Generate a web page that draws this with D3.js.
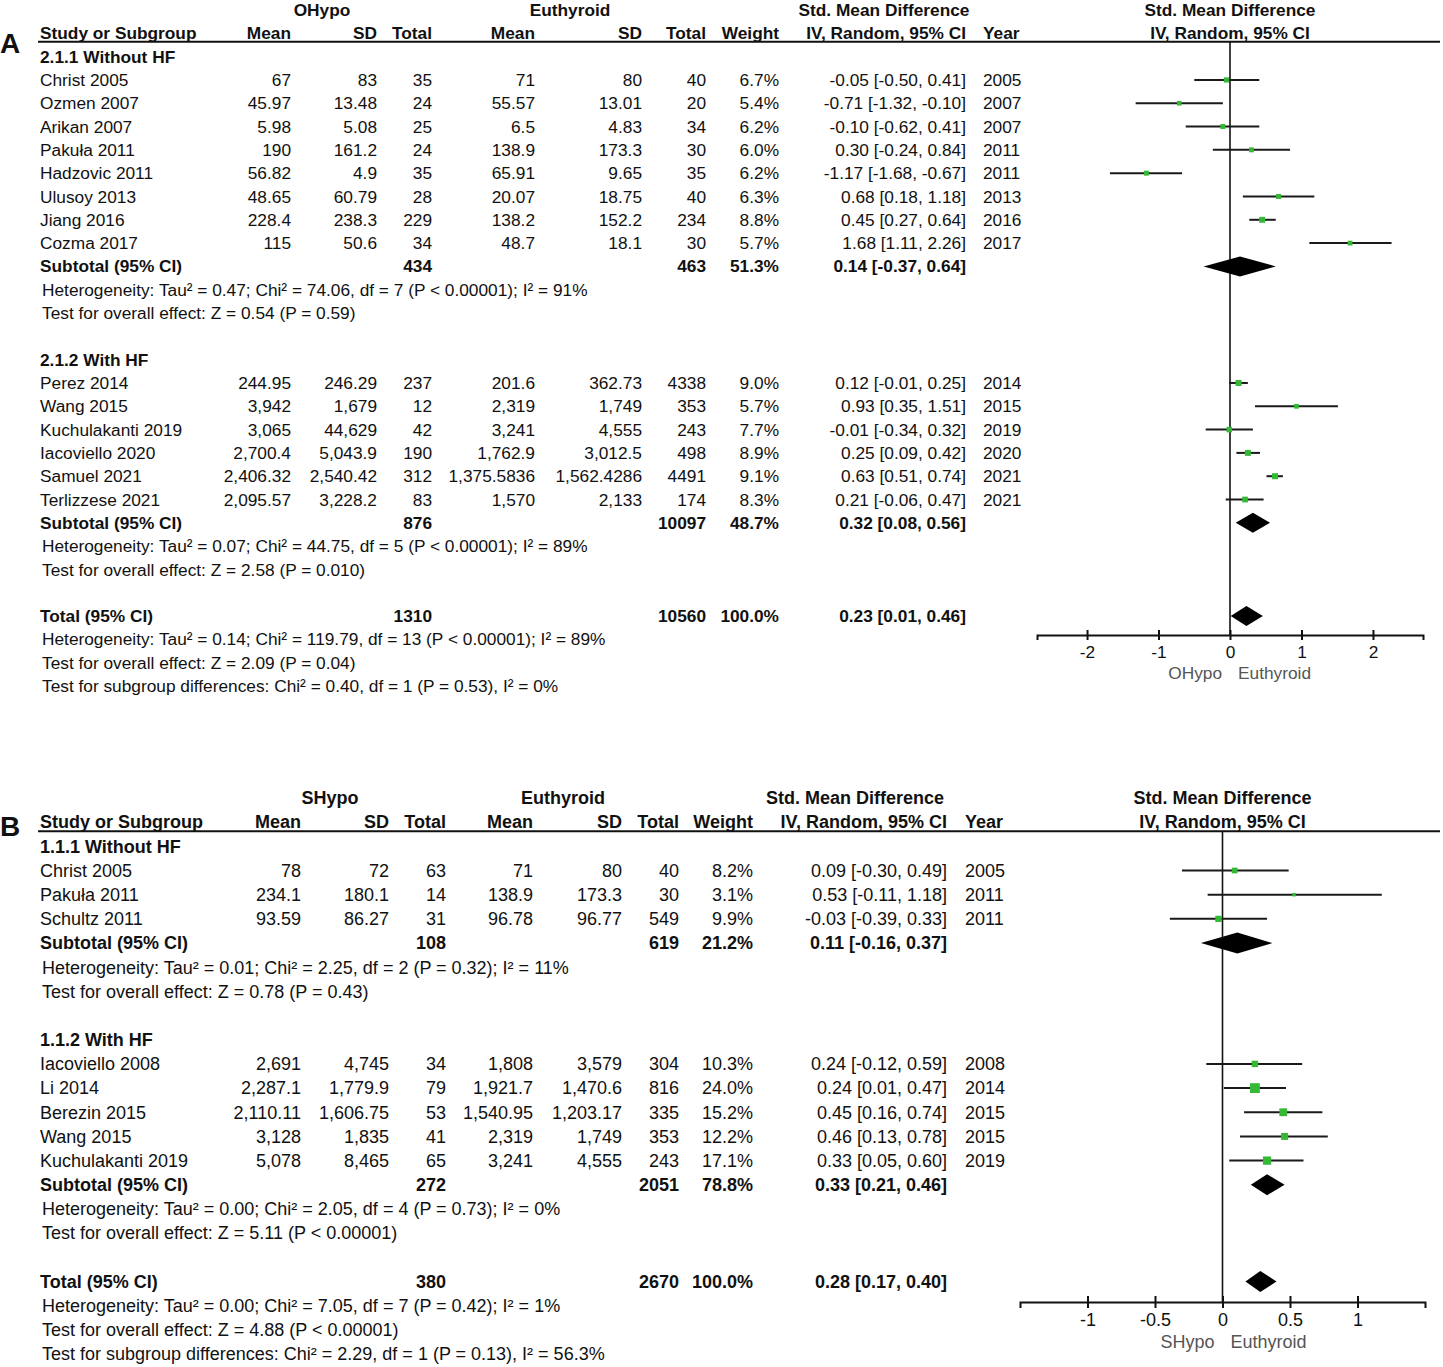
<!DOCTYPE html>
<html>
<head>
<meta charset="utf-8">
<script src="https://cdn.jsdelivr.net/npm/d3@7"></script>
<style>
  body { margin: 0; background: #fff; }
  svg text { font-family: "Liberation Sans", Arial, sans-serif; fill: #111; }
</style>
</head>
<body>
<svg id="chart" width="1443" height="1367"></svg>
<script>
// ---- Panel A: overt hypothyroidism vs euthyroid ----
const aStudy = ['Christ 2005', 'Ozmen 2007', 'Arikan 2007', 'Pakuła 2011', 'Hadzovic 2011', 'Ulusoy 2013', 'Jiang 2016', 'Cozma 2017',
  'Perez 2014', 'Wang 2015', 'Kuchulakanti 2019', 'Iacoviello 2020', 'Samuel 2021', 'Terlizzese 2021']
const aGroup = [0, 0, 0, 0, 0, 0, 0, 0, 1, 1, 1, 1, 1, 1]
const aMean1 = ['67', '45.97', '5.98', '190', '56.82', '48.65', '228.4', '115', '244.95', '3,942', '3,065', '2,700.4', '2,406.32', '2,095.57']
const aSD1 = ['83', '13.48', '5.08', '161.2', '4.9', '60.79', '238.3', '50.6', '246.29', '1,679', '44,629', '5,043.9', '2,540.42', '3,228.2']
const aN1 = [35, 24, 25, 24, 35, 28, 229, 34, 237, 12, 42, 190, 312, 83]
const aMean2 = ['71', '55.57', '6.5', '138.9', '65.91', '20.07', '138.2', '48.7', '201.6', '2,319', '3,241', '1,762.9', '1,375.5836', '1,570']
const aSD2 = ['80', '13.01', '4.83', '173.3', '9.65', '18.75', '152.2', '18.1', '362.73', '1,749', '4,555', '3,012.5', '1,562.4286', '2,133']
const aN2 = [40, 20, 34, 30, 35, 40, 234, 30, 4338, 353, 243, 498, 4491, 174]
const aWeight = [6.7, 5.4, 6.2, 6.0, 6.2, 6.3, 8.8, 5.7, 9.0, 5.7, 7.7, 8.9, 9.1, 8.3]
const aSMD = [-0.05, -0.71, -0.10, 0.30, -1.17, 0.68, 0.45, 1.68, 0.12, 0.93, -0.01, 0.25, 0.63, 0.21]
const aLow = [-0.50, -1.32, -0.62, -0.24, -1.68, 0.18, 0.27, 1.11, -0.01, 0.35, -0.34, 0.09, 0.51, -0.06]
const aHigh = [0.41, -0.10, 0.41, 0.84, -0.67, 1.18, 0.64, 2.26, 0.25, 1.51, 0.32, 0.42, 0.74, 0.47]
const aYear = [2005, 2007, 2007, 2011, 2011, 2013, 2016, 2017, 2014, 2015, 2019, 2020, 2021, 2021]
const aSubName = ['2.1.1 Without HF', '2.1.2 With HF']
const aSubN1 = [434, 876]
const aSubN2 = [463, 10097]
const aSubW = [51.3, 48.7]
const aSubSMD = [0.14, 0.32]
const aSubLow = [-0.37, 0.08]
const aSubHigh = [0.64, 0.56]
const aSubHet = ['Heterogeneity: Tau² = 0.47; Chi² = 74.06, df = 7 (P < 0.00001); I² = 91%',
  'Heterogeneity: Tau² = 0.07; Chi² = 44.75, df = 5 (P < 0.00001); I² = 89%']
const aSubTest = ['Test for overall effect: Z = 0.54 (P = 0.59)', 'Test for overall effect: Z = 2.58 (P = 0.010)']
const aTotal = [1310, 10560, 100.0, 0.23, 0.01, 0.46] // n1, n2, weight, smd, low, high
const aTotText = ['Heterogeneity: Tau² = 0.14; Chi² = 119.79, df = 13 (P < 0.00001); I² = 89%',
  'Test for overall effect: Z = 2.09 (P = 0.04)',
  'Test for subgroup differences: Chi² = 0.40, df = 1 (P = 0.53), I² = 0%']
const aTicks = [-2, -1, 0, 1, 2]

// ---- Panel B: subclinical hypothyroidism vs euthyroid ----
const bStudy = ['Christ 2005', 'Pakuła 2011', 'Schultz 2011',
  'Iacoviello 2008', 'Li 2014', 'Berezin 2015', 'Wang 2015', 'Kuchulakanti 2019']
const bGroup = [0, 0, 0, 1, 1, 1, 1, 1]
const bMean1 = ['78', '234.1', '93.59', '2,691', '2,287.1', '2,110.11', '3,128', '5,078']
const bSD1 = ['72', '180.1', '86.27', '4,745', '1,779.9', '1,606.75', '1,835', '8,465']
const bN1 = [63, 14, 31, 34, 79, 53, 41, 65]
const bMean2 = ['71', '138.9', '96.78', '1,808', '1,921.7', '1,540.95', '2,319', '3,241']
const bSD2 = ['80', '173.3', '96.77', '3,579', '1,470.6', '1,203.17', '1,749', '4,555']
const bN2 = [40, 30, 549, 304, 816, 335, 353, 243]
const bWeight = [8.2, 3.1, 9.9, 10.3, 24.0, 15.2, 12.2, 17.1]
const bSMD = [0.09, 0.53, -0.03, 0.24, 0.24, 0.45, 0.46, 0.33]
const bLow = [-0.30, -0.11, -0.39, -0.12, 0.01, 0.16, 0.13, 0.05]
const bHigh = [0.49, 1.18, 0.33, 0.59, 0.47, 0.74, 0.78, 0.60]
const bYear = [2005, 2011, 2011, 2008, 2014, 2015, 2015, 2019]
const bSubName = ['1.1.1 Without HF', '1.1.2 With HF']
const bSubN1 = [108, 272]
const bSubN2 = [619, 2051]
const bSubW = [21.2, 78.8]
const bSubSMD = [0.11, 0.33]
const bSubLow = [-0.16, 0.21]
const bSubHigh = [0.37, 0.46]
const bSubHet = ['Heterogeneity: Tau² = 0.01; Chi² = 2.25, df = 2 (P = 0.32); I² = 11%',
  'Heterogeneity: Tau² = 0.00; Chi² = 2.05, df = 4 (P = 0.73); I² = 0%']
const bSubTest = ['Test for overall effect: Z = 0.78 (P = 0.43)', 'Test for overall effect: Z = 5.11 (P < 0.00001)']
const bTotal = [380, 2670, 100.0, 0.28, 0.17, 0.40]
const bTotText = ['Heterogeneity: Tau² = 0.00; Chi² = 7.05, df = 7 (P = 0.42); I² = 1%',
  'Test for overall effect: Z = 4.88 (P < 0.00001)',
  'Test for subgroup differences: Chi² = 2.29, df = 1 (P = 0.13), I² = 56.3%']
const bTicks = [-1, -0.5, 0, 0.5, 1]

const GREEN = '#35b835'
const INK = '#111'
// plain hyphen for negatives, like the source table
const loc = d3.formatLocale({ decimal: '.', thousands: ',', grouping: [3], currency: ['', ''], minus: '-' })
const fmt2 = loc.format('.2f')
const fmtTick = loc.format('')
const fmtW = v => loc.format('.1f')(v) + '%'
const ciText = (m, l, h) => `${fmt2(m)} [${fmt2(l)}, ${fmt2(h)}]`

const svg = d3.select('#chart')
svg.append('rect').attr('width', 1443).attr('height', 1367).attr('fill', '#fff')

function drawPanel(cfg, d) {
  const g = svg.append('g')
  const fs = cfg.fontSize

  // build the row list
  const rows = [{ type: 'groupHead' }, { type: 'colHead' }]
  d.subName.forEach((name, gi) => {
    rows.push({ type: 'title', text: name })
    d.study.forEach((s, i) => { if (d.group[i] === gi) rows.push({ type: 'study', i }) })
    rows.push({ type: 'subtotal', gi })
    rows.push({ type: 'note', text: d.subHet[gi] })
    rows.push({ type: 'note', text: d.subTest[gi] })
    rows.push({ type: 'blank' })
  })
  rows.push({ type: 'total' })
  d.totText.forEach(t => rows.push({ type: 'note', text: t }))

  const yRow = d3.scaleLinear().domain([0, rows.length - 1]).range([cfg.y0, cfg.y1])
  const x = d3.scaleLinear().domain(cfg.domain).range(cfg.xRange)
  const side = d3.scaleSqrt().domain([0, 100]).range([0, 20])
  const c = cfg.cols
  const plotMid = (x(cfg.domain[0]) + x(cfg.domain[1])) / 2

  function txt(xp, yp, s, anchor, bold) {
    return g.append('text')
      .attr('x', xp).attr('y', yp).attr('dy', '0.35em')
      .attr('text-anchor', anchor || 'start')
      .attr('font-size', fs)
      .attr('font-weight', bold ? 'bold' : 'normal')
      .text(s)
  }

  // panel letter
  g.append('text').attr('x', 0).attr('y', cfg.letterY).attr('dy', '0.35em')
    .attr('font-size', 28).attr('font-weight', 'bold').text(cfg.letter)

  // header rows
  const y0 = yRow(0), y1 = yRow(1)
  txt(cfg.headCenters[0], y0, cfg.expName, 'middle', true)
  txt(cfg.headCenters[1], y0, 'Euthyroid', 'middle', true)
  txt(cfg.headCenters[2], y0, 'Std. Mean Difference', 'middle', true)
  txt(plotMid, y0, 'Std. Mean Difference', 'middle', true)
  txt(c.study, y1, 'Study or Subgroup', 'start', true)
  txt(c.mean1, y1, 'Mean', 'end', true)
  txt(c.sd1, y1, 'SD', 'end', true)
  txt(c.n1, y1, 'Total', 'end', true)
  txt(c.mean2, y1, 'Mean', 'end', true)
  txt(c.sd2, y1, 'SD', 'end', true)
  txt(c.n2, y1, 'Total', 'end', true)
  txt(c.weight, y1, 'Weight', 'end', true)
  txt(c.ci, y1, 'IV, Random, 95% CI', 'end', true)
  txt(c.year, y1, 'Year', 'start', true)
  txt(plotMid, y1, 'IV, Random, 95% CI', 'middle', true)

  const lineY = y1 + cfg.lineOffset
  g.append('line').attr('x1', 38).attr('x2', 1440).attr('y1', lineY).attr('y2', lineY)
    .attr('stroke', INK).attr('stroke-width', 2)

  // zero line
  g.append('line').attr('x1', x(0)).attr('x2', x(0)).attr('y1', lineY).attr('y2', cfg.axisY)
    .attr('stroke', INK).attr('stroke-width', 1.6)

  rows.forEach((r, ri) => {
    const yy = yRow(ri)
    if (r.type === 'title') {
      txt(c.study, yy, r.text, 'start', true)
    } else if (r.type === 'study') {
      const i = r.i
      txt(c.study, yy, d.study[i])
      txt(c.mean1, yy, d.mean1[i], 'end')
      txt(c.sd1, yy, d.sd1[i], 'end')
      txt(c.n1, yy, d.n1[i], 'end')
      txt(c.mean2, yy, d.mean2[i], 'end')
      txt(c.sd2, yy, d.sd2[i], 'end')
      txt(c.n2, yy, d.n2[i], 'end')
      txt(c.weight, yy, fmtW(d.weight[i]), 'end')
      txt(c.ci, yy, ciText(d.smd[i], d.low[i], d.high[i]), 'end')
      txt(c.year, yy, d.year[i])
      g.append('line')
        .attr('x1', x(d.low[i])).attr('x2', x(d.high[i]))
        .attr('y1', yy).attr('y2', yy)
        .attr('stroke', '#1a1a1a').attr('stroke-width', 2)
      const s = side(d.weight[i])
      g.append('rect')
        .attr('x', x(d.smd[i]) - s / 2).attr('y', yy - s / 2)
        .attr('width', s).attr('height', s)
        .attr('fill', GREEN)
    } else if (r.type === 'subtotal' || r.type === 'total') {
      const v = r.type === 'subtotal'
        ? [d.subN1[r.gi], d.subN2[r.gi], d.subW[r.gi], d.subSMD[r.gi], d.subLow[r.gi], d.subHigh[r.gi]]
        : d.total
      txt(c.study, yy, r.type === 'subtotal' ? 'Subtotal (95% CI)' : 'Total (95% CI)', 'start', true)
      txt(c.n1, yy, v[0], 'end', true)
      txt(c.n2, yy, v[1], 'end', true)
      txt(c.weight, yy, fmtW(v[2]), 'end', true)
      txt(c.ci, yy, ciText(v[3], v[4], v[5]), 'end', true)
      const h = cfg.diamondH / 2
      g.append('path')
        .attr('d', `M${x(v[4])},${yy}L${x(v[3])},${yy - h}L${x(v[5])},${yy}L${x(v[3])},${yy + h}Z`)
        .attr('fill', '#000')
    } else if (r.type === 'note') {
      txt(c.study + 2, yy, r.text)
    }
  })

  // axis
  const axis = g.append('g')
    .attr('transform', `translate(0,${cfg.axisY})`)
    .call(d3.axisBottom(x).tickValues(cfg.ticks).tickSizeOuter(0).tickSize(cfg.tickH)
      .tickFormat(fmtTick))
  axis.select('.domain').attr('stroke', INK).attr('stroke-width', 2)
  axis.selectAll('.tick line').attr('y1', -cfg.tickH).attr('stroke', INK).attr('stroke-width', 2)
  axis.selectAll('.tick text')
    .attr('y', cfg.tickLabelDy).attr('dy', '0.35em')
    .attr('font-size', fs).attr('font-family', '"Liberation Sans", Arial, sans-serif')
    .attr('fill', '#222')

  g.append('text').attr('x', x(0) - 8).attr('y', cfg.axisY + cfg.axisLabelDy).attr('dy', '0.35em')
    .attr('text-anchor', 'end').attr('font-size', fs).style('fill', '#555').text(cfg.expName)
  g.append('text').attr('x', x(0) + 8).attr('y', cfg.axisY + cfg.axisLabelDy).attr('dy', '0.35em')
    .attr('text-anchor', 'start').attr('font-size', fs).style('fill', '#555').text('Euthyroid')
}

drawPanel({
  letter: 'A', letterY: 43, expName: 'OHypo', fontSize: 17.3,
  y0: 10, y1: 686, lineOffset: 8.5, axisY: 635, tickH: 5, tickLabelDy: 17, axisLabelDy: 38,
  domain: [-2.7, 2.7], xRange: [1037, 1423], ticks: aTicks, diamondH: 20,
  headCenters: [322, 570, 884],
  cols: { study: 40, mean1: 291, sd1: 377, n1: 432, mean2: 535, sd2: 642, n2: 706, weight: 779, ci: 966, year: 983 }
}, {
  study: aStudy, group: aGroup, mean1: aMean1, sd1: aSD1, n1: aN1, mean2: aMean2, sd2: aSD2, n2: aN2,
  weight: aWeight, smd: aSMD, low: aLow, high: aHigh, year: aYear,
  subName: aSubName, subN1: aSubN1, subN2: aSubN2, subW: aSubW, subSMD: aSubSMD, subLow: aSubLow, subHigh: aSubHigh,
  subHet: aSubHet, subTest: aSubTest, total: aTotal, totText: aTotText
})

drawPanel({
  letter: 'B', letterY: 826, expName: 'SHypo', fontSize: 18,
  y0: 798, y1: 1354, lineOffset: 9, axisY: 1302, tickH: 6, tickLabelDy: 18, axisLabelDy: 40,
  domain: [-1.5, 1.5], xRange: [1020, 1425], ticks: bTicks, diamondH: 21,
  headCenters: [330, 563, 855],
  cols: { study: 40, mean1: 301, sd1: 389, n1: 446, mean2: 533, sd2: 622, n2: 679, weight: 753, ci: 947, year: 965 }
}, {
  study: bStudy, group: bGroup, mean1: bMean1, sd1: bSD1, n1: bN1, mean2: bMean2, sd2: bSD2, n2: bN2,
  weight: bWeight, smd: bSMD, low: bLow, high: bHigh, year: bYear,
  subName: bSubName, subN1: bSubN1, subN2: bSubN2, subW: bSubW, subSMD: bSubSMD, subLow: bSubLow, subHigh: bSubHigh,
  subHet: bSubHet, subTest: bSubTest, total: bTotal, totText: bTotText
})
</script>
</body>
</html>
